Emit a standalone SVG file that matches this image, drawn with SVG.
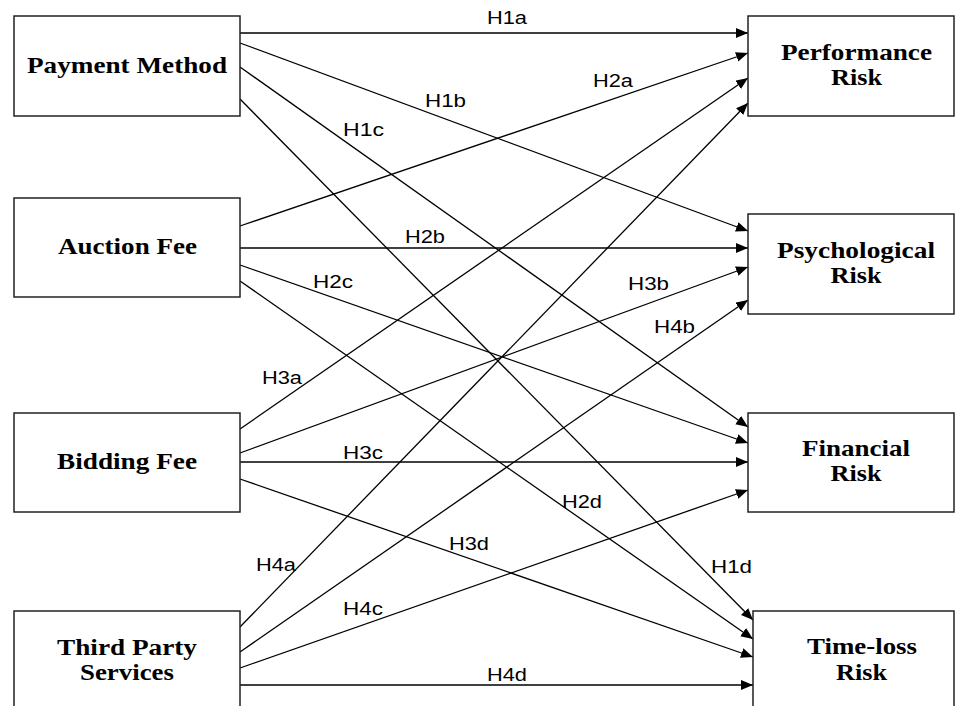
<svg xmlns="http://www.w3.org/2000/svg" width="956" height="706" viewBox="0 0 956 706">
<style>
.box{fill:#fff;stroke:#222;stroke-width:1.5}
.nt{font-family:"Liberation Serif","Times New Roman",serif;font-weight:bold;font-size:23px;fill:#000;text-anchor:middle}
.lb{font-family:"Liberation Sans",Arial,sans-serif;font-size:17.5px;fill:#000}
.cn line{stroke:#000;stroke-width:1.3;marker-end:url(#ah)}
</style>
<defs>
<marker id="ah" markerUnits="userSpaceOnUse" markerWidth="14" markerHeight="12" refX="12" refY="5" orient="auto">
<path d="M0,0 L12,5 L0,10 Z" fill="#000"/>
</marker>
</defs>
<rect width="956" height="706" fill="#fff"/>
<g class="cn" id="connectors">
<line x1="240" y1="33" x2="748" y2="33"/>
<line x1="240" y1="43" x2="748" y2="231"/>
<line x1="240" y1="67" x2="748" y2="427"/>
<line x1="240" y1="99" x2="753" y2="620"/>
<line x1="240" y1="226" x2="748" y2="53"/>
<line x1="240" y1="248" x2="748" y2="248"/>
<line x1="240" y1="265" x2="748" y2="443"/>
<line x1="240" y1="281" x2="753" y2="639"/>
<line x1="240" y1="429" x2="748" y2="78"/>
<line x1="240" y1="453" x2="748" y2="267"/>
<line x1="240" y1="462" x2="748" y2="462"/>
<line x1="240" y1="479" x2="753" y2="657"/>
<line x1="240" y1="627" x2="748" y2="103"/>
<line x1="240" y1="652" x2="748" y2="300"/>
<line x1="240" y1="668" x2="748" y2="490"/>
<line x1="240" y1="685" x2="753" y2="685"/>
</g>
<g id="labels">
<text class="lb" x="487" y="24" textLength="40" lengthAdjust="spacingAndGlyphs">H1a</text>
<text class="lb" x="425" y="107" textLength="41" lengthAdjust="spacingAndGlyphs">H1b</text>
<text class="lb" x="593" y="87" textLength="40" lengthAdjust="spacingAndGlyphs">H2a</text>
<text class="lb" x="343" y="136" textLength="41" lengthAdjust="spacingAndGlyphs">H1c</text>
<text class="lb" x="405" y="243" textLength="40" lengthAdjust="spacingAndGlyphs">H2b</text>
<text class="lb" x="313" y="288" textLength="40" lengthAdjust="spacingAndGlyphs">H2c</text>
<text class="lb" x="628" y="290" textLength="41" lengthAdjust="spacingAndGlyphs">H3b</text>
<text class="lb" x="654" y="333" textLength="41" lengthAdjust="spacingAndGlyphs">H4b</text>
<text class="lb" x="262" y="384" textLength="40" lengthAdjust="spacingAndGlyphs">H3a</text>
<text class="lb" x="343" y="459" textLength="40" lengthAdjust="spacingAndGlyphs">H3c</text>
<text class="lb" x="562" y="508" textLength="40" lengthAdjust="spacingAndGlyphs">H2d</text>
<text class="lb" x="449" y="550" textLength="40" lengthAdjust="spacingAndGlyphs">H3d</text>
<text class="lb" x="711" y="573" textLength="41" lengthAdjust="spacingAndGlyphs">H1d</text>
<text class="lb" x="256" y="571" textLength="40" lengthAdjust="spacingAndGlyphs">H4a</text>
<text class="lb" x="343" y="615" textLength="40" lengthAdjust="spacingAndGlyphs">H4c</text>
<text class="lb" x="487" y="681" textLength="40" lengthAdjust="spacingAndGlyphs">H4d</text>
</g>
<g id="payment-method"><rect class="box" x="14" y="16" width="226" height="100"/><text class="nt" x="127" y="73" textLength="200" lengthAdjust="spacingAndGlyphs">Payment Method</text></g>
<g id="auction-fee"><rect class="box" x="14" y="198" width="226" height="99"/><text class="nt" x="127.5" y="254" textLength="139" lengthAdjust="spacingAndGlyphs">Auction Fee</text></g>
<g id="bidding-fee"><rect class="box" x="14" y="413" width="226" height="99"/><text class="nt" x="127" y="469" textLength="140" lengthAdjust="spacingAndGlyphs">Bidding Fee</text></g>
<g id="third-party-services"><rect class="box" x="14" y="611" width="226" height="100"/><text class="nt" x="127" y="655" textLength="140" lengthAdjust="spacingAndGlyphs">Third Party</text><text class="nt" x="127" y="680" textLength="94" lengthAdjust="spacingAndGlyphs">Services</text></g>
<g id="performance-risk"><rect class="box" x="748" y="16" width="206" height="100"/><text class="nt" x="856.5" y="60" textLength="151" lengthAdjust="spacingAndGlyphs">Performance</text><text class="nt" x="856.5" y="85" textLength="51" lengthAdjust="spacingAndGlyphs">Risk</text></g>
<g id="psychological-risk"><rect class="box" x="748" y="214" width="206" height="100"/><text class="nt" x="856" y="258" textLength="158" lengthAdjust="spacingAndGlyphs">Psychological</text><text class="nt" x="856" y="283" textLength="51" lengthAdjust="spacingAndGlyphs">Risk</text></g>
<g id="financial-risk"><rect class="box" x="748" y="413" width="206" height="99"/><text class="nt" x="856" y="456" textLength="108" lengthAdjust="spacingAndGlyphs">Financial</text><text class="nt" x="856" y="481" textLength="51" lengthAdjust="spacingAndGlyphs">Risk</text></g>
<g id="time-loss-risk"><rect class="box" x="753" y="611" width="201" height="100"/><text class="nt" x="862" y="654" textLength="110" lengthAdjust="spacingAndGlyphs">Time-loss</text><text class="nt" x="861.5" y="680" textLength="51" lengthAdjust="spacingAndGlyphs">Risk</text></g>
</svg>
